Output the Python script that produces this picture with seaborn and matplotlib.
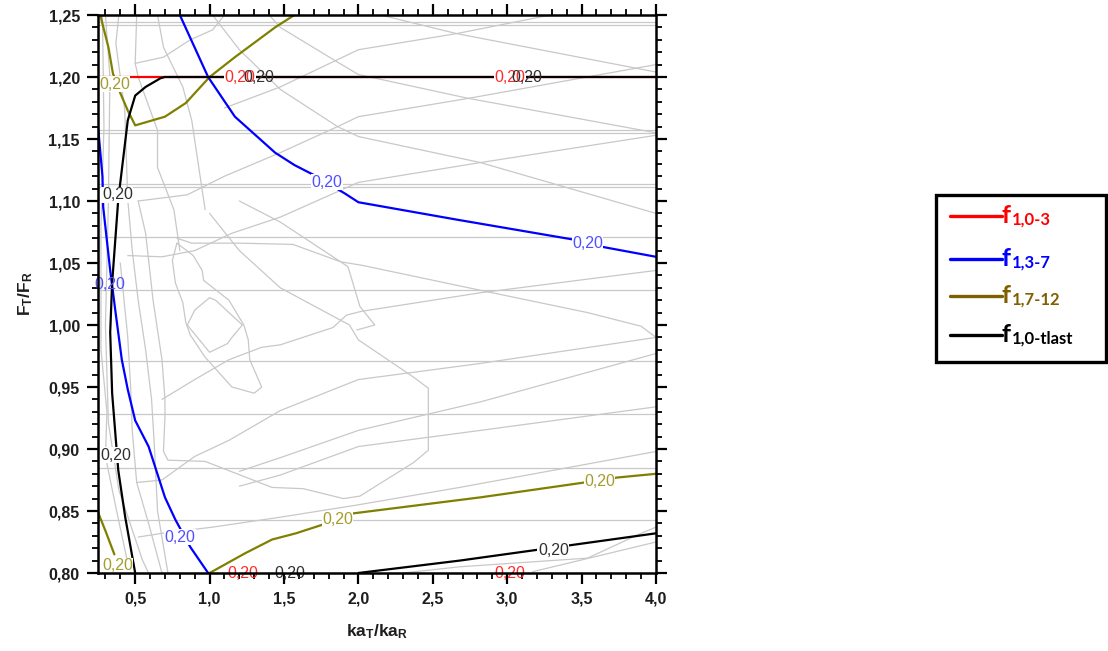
import matplotlib
matplotlib.use("Agg")
import matplotlib.pyplot as plt
import seaborn as sns
import pandas as pd
from matplotlib.ticker import MultipleLocator, FuncFormatter
from matplotlib.patches import Rectangle
from matplotlib.lines import Line2D

# ---------------- data ----------------
series_names = ["f1,0-3", "f1,3-7", "f1,7-12", "f1,0-tlast"]
legend_subs = ["1,0-3", "1,3-7", "1,7-12", "1,0-tlast"]
level_text = "0,20"

# 0.20 contour of f1,0-3 (red)
red_x = [0.25, 4.0]
red_y = [1.20, 1.20]

# 0.20 contour of f1,3-7 (blue)
blue_a_x = [0.80, 0.99, 1.17, 1.44, 1.57, 1.70, 1.91, 2.0, 2.66, 3.44, 3.64, 4.0]
blue_a_y = [1.25, 1.20, 1.168, 1.139, 1.129, 1.121, 1.106, 1.099, 1.085, 1.069, 1.063, 1.055]
blue_b_x = [0.25, 0.28, 0.285, 0.332, 0.366, 0.41, 0.45, 0.50, 0.59, 0.70, 0.77, 0.87, 0.99]
blue_b_y = [1.16, 1.12, 1.095, 1.044, 1.012, 0.972, 0.948, 0.923, 0.902, 0.861, 0.843, 0.821, 0.80]

# 0.20 contour of f1,7-12 (olive)
olive_a_x = [0.265, 0.32, 0.35, 0.40, 0.45, 0.50, 0.70, 0.84, 1.0, 1.17, 1.44, 1.57]
olive_a_y = [1.25, 1.224, 1.203, 1.187, 1.173, 1.161, 1.168, 1.179, 1.20, 1.216, 1.24, 1.25]
olive_b_x = [0.25, 0.30, 0.36]
olive_b_y = [0.849, 0.834, 0.815]
olive_c_x = [1.0, 1.24, 1.42, 1.58, 1.76, 1.96, 2.82, 3.52, 3.74, 4.0]
olive_c_y = [0.80, 0.816, 0.827, 0.832, 0.839, 0.848, 0.861, 0.873, 0.877, 0.880]

# 0.20 contour of f1,0-tlast (black)
black_a_x = [0.50, 0.433, 0.386, 0.345, 0.332, 0.345, 0.386, 0.40, 0.45, 0.50, 0.57, 0.67, 0.70, 4.0]
black_a_y = [0.80, 0.845, 0.883, 0.945, 0.994, 1.034, 1.101, 1.115, 1.165, 1.185, 1.192, 1.199, 1.20, 1.20]
black_b_x = [2.0, 2.68, 4.0]
black_b_y = [0.80, 0.810, 0.832]

# contour-label positions
label_series = ["f1,0-3"] * 4 + ["f1,0-tlast"] * 6 + ["f1,3-7"] * 4 + ["f1,7-12"] * 4
label_x = [1.206, 3.02, 1.226, 3.02, 1.33, 3.13, 1.54, 3.31, 0.38, 0.37,
           1.79, 3.54, 0.33, 0.80, 0.36, 0.38, 1.86, 3.62]
label_y = [1.20, 1.20, 0.80, 0.80, 1.20, 1.20, 0.80, 0.818, 1.105, 0.895,
           1.115, 1.066, 1.033, 0.829, 1.194, 0.806, 0.843, 0.874]

# other (grey) contour levels
gray_horizontal_y = [1.244, 1.242, 1.157, 1.155, 1.114, 1.111, 1.071, 1.028,
                     0.971, 0.928, 0.885, 0.843]
gray_lattice = [
    [(2.15, 1.25), (2.66, 1.235), (4.0, 1.204)],
    [(1.40, 1.25), (1.475, 1.240), (1.86, 1.212), (2.0, 1.202), (2.73, 1.183), (4.0, 1.155)],
    [(1.02, 1.25), (1.2, 1.222), (1.475, 1.190), (1.86, 1.160), (2.0, 1.152), (2.82, 1.131), (4.0, 1.090)],
    [(1.2, 1.10), (1.475, 1.083), (1.88, 1.051), (2.03, 1.048), (2.82, 1.028), (3.54, 1.010), (3.9, 0.999), (4.0, 0.990)],
    [(1.1, 1.175), (1.475, 1.192), (2.0, 1.222), (2.66, 1.235), (3.29, 1.25)],
    [(0.52, 1.10), (0.85, 1.105), (1.1, 1.12), (1.475, 1.139), (1.86, 1.160), (2.0, 1.168), (2.75, 1.183), (3.49, 1.199), (4.0, 1.210)],
    [(0.45, 1.056), (0.68, 1.055), (0.90, 1.060), (1.15, 1.074), (1.475, 1.087), (2.0, 1.115), (2.82, 1.131), (4.0, 1.153)],
    [(0.68, 0.940), (0.90, 0.956), (1.13, 0.972), (1.35, 0.982), (1.475, 0.984), (1.83, 0.998), (1.92, 1.008), (2.02, 1.011), (2.82, 1.026), (4.0, 1.044)],
    [(0.51, 0.873), (0.68, 0.875), (0.90, 0.894), (1.13, 0.907), (1.475, 0.931), (2.0, 0.956), (2.82, 0.969), (4.0, 0.990)],
    [(1.2, 0.882), (1.475, 0.893), (2.0, 0.915), (2.82, 0.938), (4.0, 0.977)],
    [(1.2, 0.870), (1.475, 0.879), (2.0, 0.902), (2.82, 0.915), (4.0, 0.934)],
    [(0.52, 0.829), (0.68, 0.832), (1.02, 0.837), (1.475, 0.845), (2.0, 0.855), (2.68, 0.869), (4.0, 0.898)],
    [(2.3, 0.80), (2.68, 0.805), (3.54, 0.812), (3.9, 0.832), (4.0, 0.837)],
    [(3.17, 0.801), (4.0, 0.825)],
    [(0.50, 1.211), (0.69, 1.216), (0.87, 1.23), (1.02, 1.238), (1.1, 1.25)],
]
gray_left_curves = [
    [(0.28, 1.25), (0.29, 1.16), (0.27, 1.08), (0.27, 0.98), (0.31, 0.93), (0.30, 0.894), (0.37, 0.853), (0.45, 0.808), (0.46, 0.80)],
    [(0.30, 1.25), (0.33, 1.20), (0.32, 1.10), (0.30, 1.0), (0.32, 0.921), (0.39, 0.867), (0.55, 0.81), (0.59, 0.80)],
    [(0.39, 1.25), (0.37, 1.227), (0.43, 1.173), (0.45, 1.101), (0.48, 1.06), (0.52, 1.02), (0.57, 0.98), (0.61, 0.94), (0.63, 0.90), (0.65, 0.85), (0.72, 0.80)],
    [(0.40, 1.05), (0.45, 0.99), (0.47, 0.948), (0.48, 0.915), (0.51, 0.873), (0.59, 0.840), (0.68, 0.80)],
    [(0.51, 1.25), (0.50, 1.211), (0.52, 1.20), (0.65, 1.157), (0.65, 1.127), (0.76, 1.093), (0.80, 1.06)],
    [(0.65, 1.25), (0.69, 1.224), (0.82, 1.192), (0.88, 1.165), (0.97, 1.093)],
]
gray_loops = [
    [(0.52, 1.10), (0.57, 1.074), (0.62, 1.020), (0.68, 0.972), (0.70, 0.940), (0.70, 0.926), (0.69, 0.898), (0.72, 0.891),
     (0.97, 0.890), (1.42, 0.869), (1.63, 0.868), (1.90, 0.860), (2.01, 0.862), (2.37, 0.889), (2.47, 0.899),
     (2.47, 0.949), (2.37, 0.958), (2.0, 0.988), (1.94, 1.0), (1.475, 1.030), (1.2, 1.06), (1.0, 1.09)],
    [(0.78, 1.07), (0.88, 1.066), (1.20, 1.066), (1.56, 1.065), (1.88, 1.051), (1.93, 1.047), (2.01, 1.015), (2.11, 1.0), (1.99, 0.996)],
    [(0.78, 1.066), (0.89, 1.056), (0.95, 1.044), (0.96, 1.036), (1.13, 1.020), (1.23, 1.0), (1.26, 0.988), (1.27, 0.972),
     (1.35, 0.950), (1.30, 0.945), (1.15, 0.950), (0.97, 0.974), (0.87, 0.992), (0.84, 1.002), (0.82, 1.018), (0.77, 1.034),
     (0.75, 1.052), (0.78, 1.066)],
    [(0.85, 1.0), (0.90, 1.012), (1.0, 1.022), (1.04, 1.02), (1.22, 1.0), (1.15, 0.99), (1.12, 0.985), (1.0, 0.978), (0.85, 1.0)],
]

# ---------------- styling ----------------
line_colors = {"f1,0-3": "#ff0000", "f1,3-7": "#0000ff", "f1,7-12": "#808000", "f1,0-tlast": "#000000"}
label_colors = {"f1,0-3": "#ff2a2a", "f1,3-7": "#5050ff", "f1,7-12": "#a39d2e", "f1,0-tlast": "#303030"}
legend_colors = ["#ff0000", "#0000ff", "#7f6000", "#000000"]

sns.set_style("ticks")
plt.rcParams["font.family"] = ["Liberation Sans", "DejaVu Sans"]
plt.rcParams["mathtext.fontset"] = "custom"
plt.rcParams["mathtext.rm"] = "Liberation Sans"
plt.rcParams["mathtext.bf"] = "Liberation Sans:bold"
plt.rcParams["mathtext.it"] = "Liberation Sans:italic"

W, H = 1108, 651
fig = plt.figure(figsize=(W / 100, H / 100), dpi=100)
ax = fig.add_axes([98 / W, 78 / H, 558 / W, 558 / H])

# grey contours
rows = []
gid = 0
for yv in gray_horizontal_y:
    rows += [(gid, 0.25, yv), (gid, 4.0, yv)]
    gid += 1
for group in (gray_lattice, gray_left_curves, gray_loops):
    for line in group:
        for (xv, yv) in line:
            rows.append((gid, xv, yv))
        gid += 1
df_gray = pd.DataFrame(rows, columns=["line", "x", "y"])
sns.lineplot(data=df_gray, x="x", y="y", units="line", estimator=None, sort=False,
             color="#c8c8c8", linewidth=0.9, legend=False, ax=ax, zorder=1)

# coloured 0.20 contours
segments = [
    ("f1,7-12", olive_a_x, olive_a_y), ("f1,7-12", olive_b_x, olive_b_y), ("f1,7-12", olive_c_x, olive_c_y),
    ("f1,3-7", blue_a_x, blue_a_y), ("f1,3-7", blue_b_x, blue_b_y),
    ("f1,0-3", red_x, red_y),
    ("f1,0-tlast", black_a_x, black_a_y), ("f1,0-tlast", black_b_x, black_b_y),
]
rows = []
for i, (s, xs, ys) in enumerate(segments):
    for xv, yv in zip(xs, ys):
        rows.append((s, i, xv, yv))
df_c = pd.DataFrame(rows, columns=["series", "seg", "x", "y"])
sns.lineplot(data=df_c, x="x", y="y", hue="series", units="seg", estimator=None, sort=False,
             hue_order=["f1,7-12", "f1,3-7", "f1,0-3", "f1,0-tlast"], palette=line_colors,
             linewidth=1.6, legend=False, ax=ax, zorder=2)

# contour labels
for s, xv, yv in zip(label_series, label_x, label_y):
    on_edge = (yv <= 0.801) or (xv < 0.345)
    kw = {}
    if not on_edge and not (s == "f1,0-tlast" and yv == 1.20):
        kw["bbox"] = dict(facecolor="white", edgecolor="none", pad=0.3)
    ax.text(xv, yv, level_text, color=label_colors[s], fontsize=11.5, ha="center", va="center",
            zorder=2.3, clip_on=False, **kw)

ax.set_xlim(0.25, 4.0)
ax.set_ylim(0.80, 1.25)
ax.xaxis.set_major_locator(MultipleLocator(0.5))
ax.xaxis.set_minor_locator(MultipleLocator(0.1))
ax.yaxis.set_major_locator(MultipleLocator(0.05))
ax.yaxis.set_minor_locator(MultipleLocator(0.01))
ax.xaxis.set_major_formatter(FuncFormatter(lambda v, p: f"{v:.1f}".replace(".", ",")))
ax.yaxis.set_major_formatter(FuncFormatter(lambda v, p: f"{v:.2f}".replace(".", ",")))
ax.tick_params(which="both", direction="out", top=True, right=True, labeltop=False, labelright=False,
               colors="black", labelcolor="#1e1e1e")
ax.tick_params(which="major", length=8, width=1.6, labelsize=11.5, pad=5)
ax.tick_params(which="minor", length=4, width=1.3)
for lab in ax.get_xticklabels() + ax.get_yticklabels():
    lab.set_fontweight("bold")
for sp in ax.spines.values():
    sp.set_linewidth(1.8)
    sp.set_color("black")
    sp.set_zorder(3)

ax.set_xlabel(r"$\mathbf{ka}_\mathbf{T}\mathbf{/ka}_\mathbf{R}$", fontsize=12.5, labelpad=12, color="#1e1e1e")
ax.set_ylabel(r"$\mathbf{F}_\mathbf{T}\mathbf{/F}_\mathbf{R}$", fontsize=12.5, labelpad=10, color="#1e1e1e")

# legend box (figure pixel coordinates)
def fx(px):
    return px / W

def fy(py):
    return 1 - py / H

fig.add_artist(Rectangle((fx(936), fy(362)), fx(1106) - fx(936), fy(195) - fy(362),
                         transform=fig.transFigure, facecolor="white", edgecolor="black", linewidth=2.4))
entry_py = [216, 259, 296, 335]
for sub, col, py in zip(legend_subs, legend_colors, entry_py):
    fig.add_artist(Line2D([fx(950), fx(1002)], [fy(py), fy(py)], transform=fig.transFigure,
                          color=col, linewidth=2.4))
    fig.text(fx(1002), fy(py + 7), "f", color=col, fontsize=18, fontweight="bold",
             family=["Lato", "DejaVu Sans"], ha="left", va="baseline")
    fig.text(fx(1012), fy(py + 9), sub, color=col, fontsize=12, fontweight="bold",
             family=["Lato", "DejaVu Sans"], ha="left", va="baseline")

fig.savefig("out.png", dpi=100)
